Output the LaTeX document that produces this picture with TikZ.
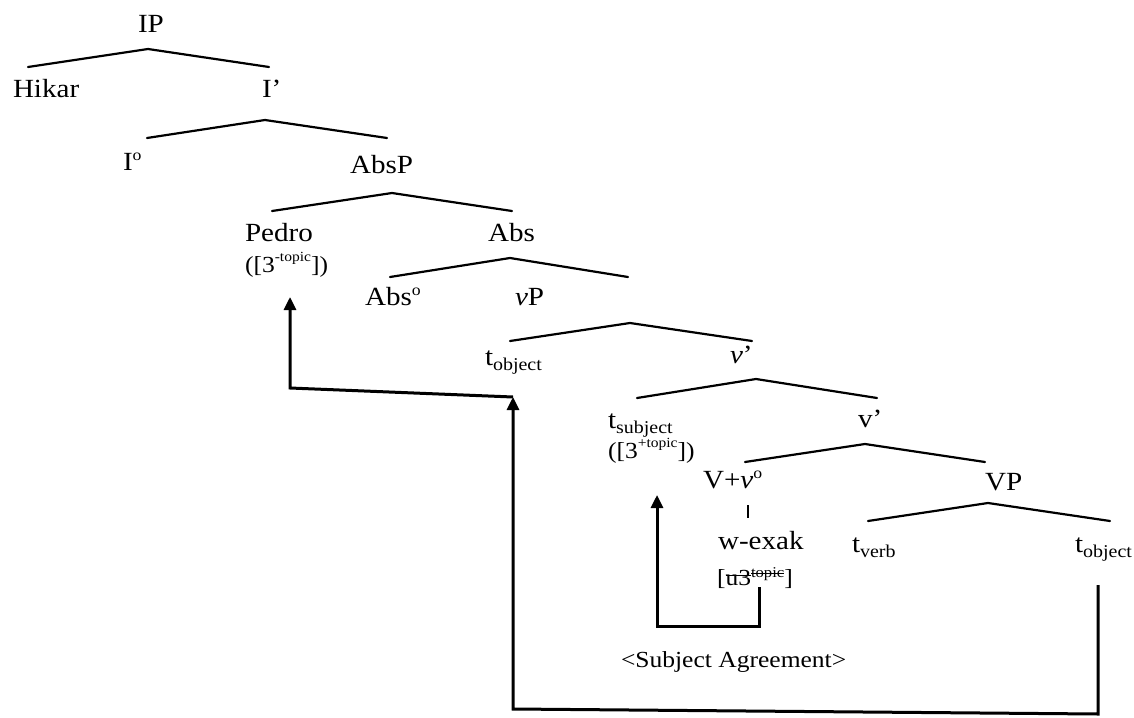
\documentclass[tikz,border=0pt]{standalone}
\usepackage{fontspec}
\setmainfont{Liberation Serif}[FakeStretch=1.11]
\usetikzlibrary{arrows.meta}
\newcommand\tsub[1]{\raisebox{-5pt}{\fontsize{18}{18}\selectfont #1}}
\newcommand\osup{\raisebox{10pt}{\fontsize{16}{16}\selectfont o}}
\newcommand\fsup[1]{\raisebox{11pt}{\fontsize{14}{14}\selectfont #1}}
\newcommand\strk[2]{\setbox0\hbox{#1}\rlap{\copy0}\rule[#2]{\wd0}{0.9pt}}
\tikzset{
  lbl/.style={anchor=base west, inner sep=0pt, outer sep=0pt, font=\fontsize{26.2}{30}\selectfont},
  feat/.style={anchor=base west, inner sep=0pt, outer sep=0pt, font=\fontsize{23}{26}\selectfont},
  branch/.style={line width=2.2pt, line cap=round},
  mover/.style={line width=3pt, -{Triangle[length=13pt,width=12pt]}}
}
\begin{document}
\begin{tikzpicture}[x=1pt,y=-1pt]
\useasboundingbox (0,0) rectangle (1134,717);
% nodes
\node[lbl] (IP) at (138,33) {IP};
\node[lbl] (Hikar) at (13,97) {Hikar};
\node[lbl] (Ibar) at (262,97) {I’};
\node[lbl] (Io) at (123,170) {I\osup};
\node[lbl] (AbsP) at (350,173) {AbsP};
\node[lbl] (Pedro) at (245,241) {Pedro};
\node[feat] (pedrof) at (245,272) {([3\fsup{-topic}])};
\node[lbl] (Abs) at (488,241) {Abs};
\node[lbl] (Abso) at (365,305) {Abs\osup};
\node[lbl] (vP) at (515,305) {\textit{v}P};
\node[lbl] (tobj1) at (485,365) {t\tsub{object}};
\node[lbl] (vbar1) at (730,363) {\textit{v}’};
\node[lbl] (tsubj) at (608,428) {t\tsub{subject}};
\node[feat] (tsubjf) at (608,458) {([3\fsup{+topic}])};
\node[lbl] (vbar2) at (858,427) {v’};
\node[lbl] (Vv) at (703,488) {V+\textit{v}\osup};
\node[lbl] (VP) at (985,490) {VP};
\node[lbl] (wexak) at (718,549) {w-exak};
\node[feat] (wexakf) at (717,585) {[\strk{u3}{9pt}\raisebox{8pt}{\fontsize{15}{15}\selectfont\strk{topic}{3.5pt}}]};
\node[lbl] (tverb) at (852,552) {t\tsub{verb}};
\node[lbl] (tobj2) at (1075,552) {t\tsub{object}};
\node[feat] (agr) at (621,667) {<Subject Agreement>};
% branch coordinates
\coordinate (IP-l) at (28,67); \coordinate (IP-a) at (148,49); \coordinate (IP-r) at (269,67);
\coordinate (Ib-l) at (147,138); \coordinate (Ib-a) at (265,120); \coordinate (Ib-r) at (387,138);
\coordinate (AP-l) at (272,211); \coordinate (AP-a) at (392,193); \coordinate (AP-r) at (512,211);
\coordinate (Ab-l) at (390,277); \coordinate (Ab-a) at (510,258); \coordinate (Ab-r) at (628,277);
\coordinate (vP-l) at (510,341); \coordinate (vP-a) at (630,323); \coordinate (vP-r) at (752,341);
\coordinate (v1-l) at (637,398); \coordinate (v1-a) at (756,379); \coordinate (v1-r) at (877,398);
\coordinate (v2-l) at (745,462); \coordinate (v2-a) at (865,444); \coordinate (v2-r) at (985,462);
\coordinate (VP-l) at (868,521); \coordinate (VP-a) at (988,503); \coordinate (VP-r) at (1110,521);
\coordinate (tick-t) at (748,505); \coordinate (tick-b) at (748,518);
\draw[branch] (IP-l) -- (IP-a) -- (IP-r);
\draw[branch] (Ib-l) -- (Ib-a) -- (Ib-r);
\draw[branch] (AP-l) -- (AP-a) -- (AP-r);
\draw[branch] (Ab-l) -- (Ab-a) -- (Ab-r);
\draw[branch] (vP-l) -- (vP-a) -- (vP-r);
\draw[branch] (v1-l) -- (v1-a) -- (v1-r);
\draw[branch] (v2-l) -- (v2-a) -- (v2-r);
\draw[branch] (VP-l) -- (VP-a) -- (VP-r);
\draw[line width=2.6pt] (tick-t) -- (tick-b);
% movement arrows
\coordinate (tobj2-foot) at (1098,585);
\coordinate (c1) at (1098,714);
\coordinate (c2) at (513,709);
\coordinate (tobj1-land) at (513,397);
\coordinate (c3) at (290,388);
\coordinate (pedro-land) at (290,297);
\coordinate (feat-foot) at (759,587);
\coordinate (c4) at (759,626);
\coordinate (c5) at (657,626);
\coordinate (tsubj-land) at (657,495);
\draw[mover] (tobj2-foot) -- (c1) -- (c2) -- (tobj1-land);
\draw[mover] (tobj1-land) -- (c3) -- (pedro-land);
\draw[mover] (feat-foot) -- (c4) -- (c5) -- (tsubj-land);
\end{tikzpicture}
\end{document}
